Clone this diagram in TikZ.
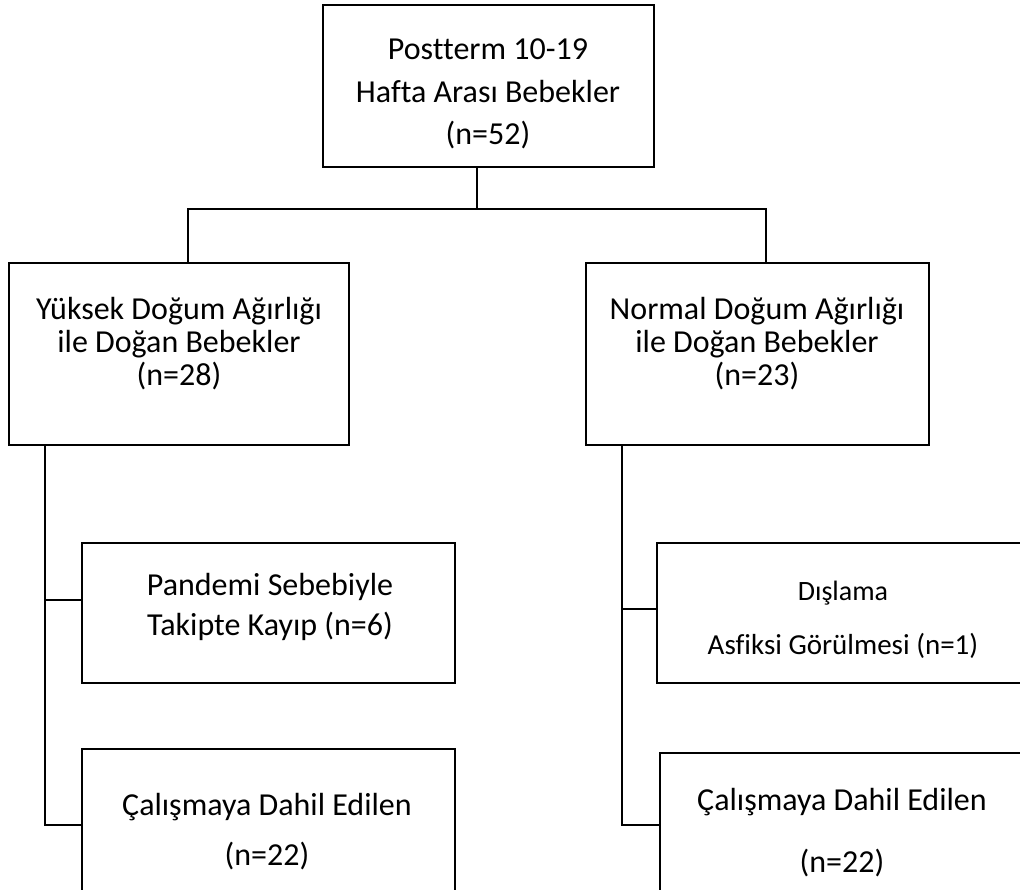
\documentclass[tikz,border=0pt]{standalone}
\usepackage{fontspec}
\setmainfont[Ligatures={NoCommon}]{Carlito}
\begin{document}
\begin{tikzpicture}[x=1pt,y=-1pt,
  boxst/.style={draw=black,line width=1.3pt,rectangle,inner sep=0pt},
  txt/.style={align=center,inner sep=0pt,font=\fontsize{32}{33}\selectfont},
  line/.style={draw=black,line width=1.2pt}]
\useasboundingbox (0,0) rectangle (1020,890);
\clip (0,0) rectangle (1020,890);
% boxes
\node[boxst,minimum width=331pt,minimum height=162pt] (top) at (488.5,86) {};
\node[boxst,minimum width=340pt,minimum height=182pt] (yuk) at (179,354) {};
\node[boxst,minimum width=343pt,minimum height=182pt] (nor) at (757.5,354) {};
\node[boxst,minimum width=373pt,minimum height=140pt] (pan) at (268.5,613) {};
\node[boxst,minimum width=372pt,minimum height=140pt] (dis) at (843,613) {};
\node[boxst,minimum width=373pt,minimum height=200pt] (cal1) at (268.5,849) {};
\node[boxst,minimum width=368pt,minimum height=200pt] (cal2) at (844,853) {};
% texts
\node[txt,font=\fontsize{32}{42.5}\selectfont] (toptxt) at (488,94) {Postterm 10-19\\Hafta Arası Bebekler\\(n=52)};
\node[txt] (yuktxt) at (179,344) {Yüksek Doğum Ağırlığı\\ile Doğan Bebekler\\(n=28)};
\node[txt] (nortxt) at (757,344) {Normal Doğum Ağırlığı\\ile Doğan Bebekler\\(n=23)};
\node[txt,font=\fontsize{32}{40}\selectfont] (pantxt) at (270,607) {Pandemi Sebebiyle\\Takipte Kayıp (n=6)};
\node[txt,font=\fontsize{28}{53}\selectfont] (distxt1) at (843,593) {Dışlama};
\node[txt,font=\fontsize{29}{53}\selectfont] (distxt2) at (843,646) {Asfiksi Görülmesi (n=1)};
\node[txt,font=\fontsize{32}{50}\selectfont] (cal1txt) at (267,832) {Çalışmaya Dahil Edilen\\(n=22)};
\node[txt,font=\fontsize{32}{62}\selectfont] (cal2txt) at (842,833) {Çalışmaya Dahil Edilen\\(n=22)};
% connectors
\coordinate (j) at (477,209);
\coordinate (lj) at (188,209);
\coordinate (rj) at (766,209);
\draw[line] (top.south -| j) -- (j);
\draw[line] (yuk.north -| lj) -- (lj) -- (rj) -- (nor.north -| rj);
\coordinate (ls) at (45,825);
\coordinate (rs) at (622,825);
\draw[line] (yuk.south -| ls) -- (ls) -- (cal1.west |- ls);
\draw[line] (45,600) coordinate (lb) -- (pan.west |- lb);
\draw[line] (nor.south -| rs) -- (rs) -- (cal2.west |- rs);
\draw[line] (622,609) coordinate (rb) -- (dis.west |- rb);
\end{tikzpicture}
\end{document}
